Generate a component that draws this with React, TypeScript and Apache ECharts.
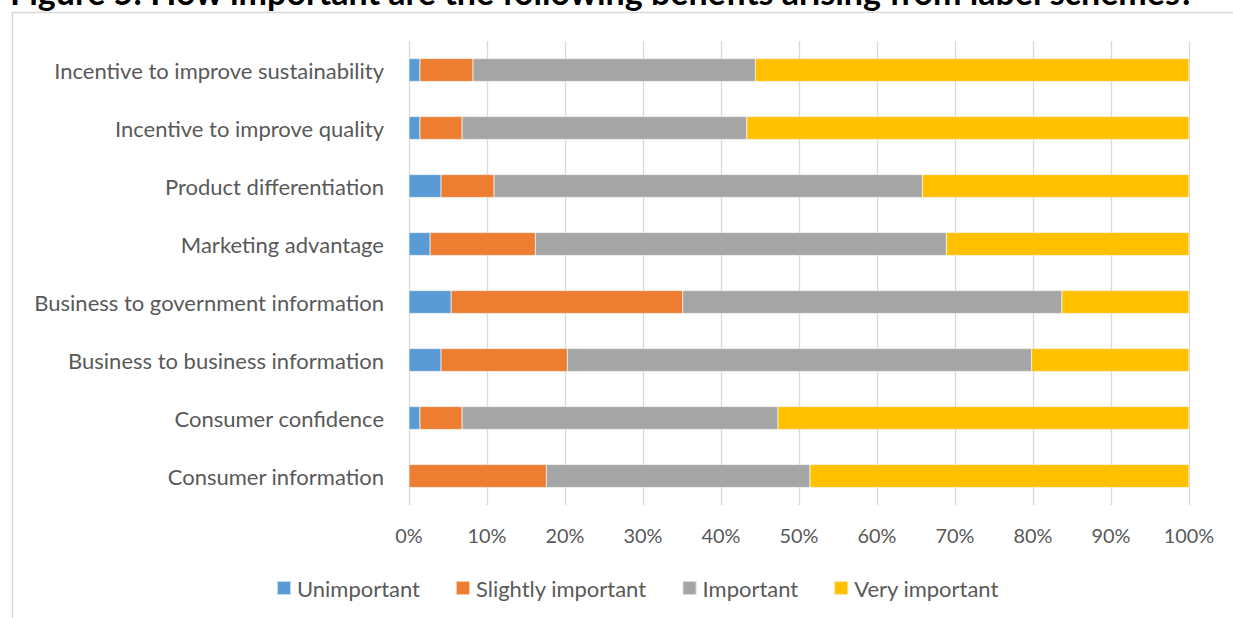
import React, { useEffect, useRef } from "react";
import * as echarts from "echarts";

const titleText = "Figure 5: How important are the following benefits arising from label schemes?";

const categories = [
  "Incentive to improve sustainability",
  "Incentive to improve quality",
  "Product differentiation",
  "Marketing advantage",
  "Business to government information",
  "Business to business information",
  "Consumer confidence",
  "Consumer information",
];

const seriesNames = ["Unimportant", "Slightly important", "Important", "Very important"];
const unimportant = [1.4, 1.4, 4.1, 2.7, 5.4, 4.1, 1.4, 0];
const slightlyImportant = [6.8, 5.4, 6.8, 13.5, 29.7, 16.2, 5.4, 17.6];
const important = [36.2, 36.5, 54.9, 52.7, 48.6, 59.5, 40.5, 33.8];
const veryImportant = [55.6, 56.7, 34.2, 31.1, 16.3, 20.2, 52.7, 48.6];

const colors = ["#5B9BD5", "#ED7D31", "#A5A5A5", "#FFC000"];

const xMin = 0;
const xMax = 100;
const xInterval = 10;

function fitSize(text: string, family: string, weight: string, target: number): number {
  const ctx = document.createElement("canvas").getContext("2d");
  if (!ctx) return 18;
  ctx.font = `${weight} 100px ${family}`;
  const w = ctx.measureText(text).width;
  return w > 0 ? (100 * target) / w : 18;
}

export default function App() {
  const ref = useRef<HTMLDivElement>(null);

  useEffect(() => {
    if (!ref.current) return;
    const chart = echarts.init(ref.current, undefined, { renderer: "svg" });
    const family = "Lato";
    const titleSize = fitSize(titleText, family, "bold", 1186);
    const labelSize = fitSize(categories[0], family, "normal", 330);
    const tickSize = fitSize("10%", family, "normal", 39);
    const legendSize = fitSize(seriesNames[0], family, "normal", 123);
    const textColor = "#595959";

    const data = [unimportant, slightlyImportant, important, veryImportant];

    chart.setOption({
      animation: false,
      backgroundColor: "#ffffff",
      graphic: [
        {
          type: "rect",
          shape: { x: 12.5, y: 12.5, width: 1400, height: 800 },
          style: { fill: "none", stroke: "#D9D9D9", lineWidth: 1.5 },
          silent: true,
        },
        {
          type: "text",
          x: 10,
          y: -9,
          style: {
            text: titleText,
            fontFamily: family,
            fontWeight: "bold",
            fontSize: titleSize,
            fill: "#000000",
            verticalAlign: "middle",
            align: "left",
          },
          silent: true,
        },
      ],
      legend: {
        data: seriesNames,
        left: 271,
        top: 572,
        itemWidth: 14,
        itemHeight: 14,
        itemGap: 35,
        icon: "rect",
        textStyle: { color: textColor, fontFamily: family, fontSize: legendSize, padding: [0, 0, 0, 1] },
      },
      grid: { left: 409, right: 44, top: 41, bottom: 113, containLabel: false },
      xAxis: {
        type: "value",
        min: xMin,
        max: xMax,
        interval: xInterval,
        axisLine: { show: false },
        axisTick: { show: false },
        splitLine: { show: true, lineStyle: { color: "#D9D9D9", width: 1.3 } },
        axisLabel: {
          formatter: "{value}%",
          color: textColor,
          fontFamily: family,
          fontSize: tickSize,
          margin: 20,
        },
      },
      yAxis: {
        type: "category",
        data: categories,
        inverse: true,
        axisLine: { show: false },
        axisTick: { show: false },
        axisLabel: { color: textColor, fontFamily: family, fontSize: labelSize, margin: 25 },
      },
      series: seriesNames.map((name, i) => ({
        name,
        type: "bar",
        stack: "total",
        barWidth: 23,
        data: data[i],
        itemStyle: { color: colors[i], borderColor: "rgba(255,255,255,0.6)", borderWidth: 0.5 },
      })),
    });

    return () => chart.dispose();
  }, []);

  return (
    <div
      ref={ref}
      style={{ position: "absolute", left: 0, top: 0, width: 1233, height: 618, background: "#fff" }}
    />
  );
}
